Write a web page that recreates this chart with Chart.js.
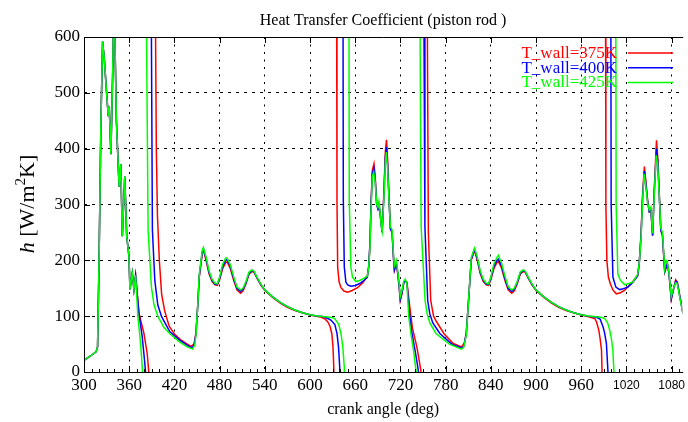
<!DOCTYPE html>
<html>
<head>
<meta charset="utf-8">
<title>Heat Transfer Coefficient (piston rod )</title>
<script src="https://cdn.jsdelivr.net/npm/chart.js@4.4.1/dist/chart.umd.min.js"></script>
<style>
  html, body { margin: 0; padding: 0; background: #fff; }
  canvas { display: block; }
</style>
</head>
<body>
<canvas id="htc" width="688" height="422"></canvas>
<script>
// crank angle ticks (deg) and h ticks (W/m^2K)
const angleTicks = [300, 360, 420, 480, 540, 600, 660, 720, 780, 840, 900, 960, 1020, 1080];
const hTicks = [0, 100, 200, 300, 400, 500, 600];
const seriesNames = ['T_wall=375K', 'T_wall=400K', 'T_wall=425K'];
const seriesColors = ['#ff0000', '#0000ff', '#00ff00'];

// first compression/firing, identical for the three wall temperatures
const startup = [
  [300, 21], [310, 30], [316, 36], [318, 45], [320, 200], [322.5, 450], [324.7, 592], [327, 560],
  [330, 500], [332.2, 458], [333.5, 476], [335.7, 390], [338, 530], [339.5, 650], [341, 600],
  [343, 450], [346.6, 332], [348.8, 372], [350.9, 243], [354.1, 350], [356.7, 243], [359.7, 207],
  [361, 148], [364.1, 177], [366.3, 148], [368.5, 173]
];

// [crank angle, h]; null marks the break where T_gas crosses T_wall
const wall375 = startup.concat([
  [372.9, 106], [379.4, 70], [383.8, 34], [386, 0], [387.5, -300], [389, null],
  [394, 900], [395, 600], [396, 400], [397.5, 280], [400, 200], [403, 140], [407, 110], [413, 82],
  [420, 68], [428, 58], [436, 51], [442, 46], [446, 50], [448.6, 69], [451, 120], [453, 170],
  [457, 212], [458.5, 219], [462, 200], [466, 176], [470, 162], [474, 156], [477, 155], [480, 165],
  [484, 185], [488, 196], [490, 197], [494, 186], [499, 163], [503, 147], [507.7, 141], [511, 145],
  [515, 158], [519, 175], [523, 180], [525.5, 179], [530, 167], [535, 155], [540, 146], [550, 134],
  [560, 124], [570, 116], [580, 110], [590, 106], [600, 102], [610, 99.5], [615, 98], [620, 95],
  [623.6, 89.6], [626.5, 82], [628.9, 69], [630.5, 45], [631.5, 9], [632.5, -300], [633.5, null],
  [635, 900], [635.8, 307], [636.7, 188], [638.5, 162], [641.1, 151], [645, 145], [649.9, 143],
  [656, 146], [663, 151], [670, 160], [676.1, 172], [678, 190], [679.6, 230], [681, 300],
  [682.7, 361], [684.9, 373], [686.5, 350], [688.5, 300], [690.2, 293], [691.5, 300], [692.8, 287],
  [694.5, 265], [695.8, 251], [698, 320], [700, 395], [701.5, 416], [703, 380], [704.6, 320],
  [706.7, 257], [708.9, 251], [711, 200], [712, 182], [714.6, 194], [716.5, 176], [718.5, 150],
  [719.8, 128], [722, 140], [724.5, 160], [726.4, 164], [728.6, 161], [733, 110], [736, 78],
  [741.8, 45], [745, 20], [747.4, 0], [748.5, -300], [750, null],
  [755, 900], [755.8, 600], [757.1, 248], [760.2, 128], [764, 100], [768, 90], [777.6, 69],
  [790, 51], [801, 45], [805, 52], [807.4, 69], [811, 140], [814, 200], [818.3, 218], [822, 200],
  [826, 176], [830, 162], [834, 156], [837, 155], [840, 165], [844, 185], [848, 196], [850, 198],
  [854, 187], [859, 163], [863, 147], [867.7, 141], [871, 145], [875, 158], [879, 175], [883, 180],
  [885.5, 179], [890, 167], [895, 155], [900, 146], [910, 134], [920, 124], [930, 116], [940, 110],
  [950, 106], [960, 102], [970, 99], [978, 95.6], [980.3, 89.6], [983.3, 75], [985, 60],
  [986.9, 39], [987.6, 0], [988.5, -300], [990, null],
  [992, 900], [992.7, 300], [994, 200], [996, 170], [998.6, 158], [1002, 147], [1006.5, 140],
  [1012, 142], [1017.4, 146], [1026, 158], [1034.9, 173], [1037, 195], [1039.4, 248],
  [1041.5, 320], [1043.8, 368], [1045.5, 345], [1048.1, 308], [1050.3, 287], [1052.5, 290],
  [1054.7, 245], [1057, 330], [1059.9, 415], [1061.5, 385], [1063.4, 325], [1065.6, 254],
  [1067.8, 245], [1070.8, 179], [1074.3, 194], [1076.5, 176], [1079.5, 130], [1082, 145],
  [1085.3, 165], [1087.5, 161], [1091, 135], [1095.2, 105], [1100, 90]
]);

const wall400 = startup.concat([
  [372.9, 105], [377.2, 64], [380.3, 22], [381.7, 0], [383, -300], [384, null],
  [388.8, 900], [389.5, 600], [390.8, 254], [394, 164], [398, 120], [403, 99], [414, 72],
  [427, 57], [440, 45], [444, 44], [446.5, 50], [448.6, 69], [451, 120], [453, 172], [457, 215],
  [458.5, 221], [462, 203], [466, 178], [470, 164], [474, 157], [477, 157], [480, 168], [484, 189],
  [488, 200], [490, 201], [494, 190], [499, 166], [503, 150], [507.7, 144], [511, 148], [515, 160],
  [519, 177], [523, 182], [525.5, 180], [530, 168], [535, 156], [540, 147], [550, 135], [560, 125],
  [570, 117], [580, 111], [590, 106], [600, 102.5], [610, 100], [615, 100], [620, 98], [625, 95],
  [628, 92.6], [633, 85], [635.8, 69], [637.8, 45], [639.4, 9], [640.5, -300], [641.5, null],
  [643.5, 900], [644.2, 307], [645.5, 188], [647.6, 161], [650, 156], [654.2, 153.5], [660, 155],
  [665.2, 158], [671, 163], [676.1, 170], [678, 190], [679.6, 232], [681, 300], [682.7, 356],
  [684.9, 365], [686.5, 345], [688.5, 300], [690.2, 292], [691.5, 298], [692.8, 287], [694.5, 264],
  [695.8, 250], [698, 315], [700, 385], [701.5, 403], [703, 370], [704.6, 318], [706.7, 256],
  [708.9, 250], [711, 200], [712, 183], [714.6, 195], [716.5, 177], [718.5, 150], [719.8, 130],
  [722, 142], [724.5, 160], [726.4, 163], [728.6, 160], [732, 105], [735, 72], [739, 42],
  [742, 18], [744, 0], [745, -300], [746, null],
  [750.6, 900], [751.3, 600], [752.5, 260], [756.2, 128], [759, 104], [763, 88], [772.3, 69],
  [788, 50], [801, 43], [804, 46], [807.4, 69], [811, 140], [814, 202], [818.3, 220], [822, 203],
  [826, 178], [830, 164], [834, 157], [837, 157], [840, 168], [844, 189], [848, 200], [850, 202],
  [854, 191], [859, 166], [863, 150], [867.7, 144], [871, 148], [875, 160], [879, 177], [883, 182],
  [885.5, 180], [890, 168], [895, 156], [900, 147], [910, 135], [920, 125], [930, 117], [940, 111],
  [950, 106], [960, 102.5], [970, 100], [980, 98], [985, 95], [988.9, 81], [991, 70],
  [993.4, 51], [995.5, 0], [996.5, -300], [997.5, null],
  [999, 900], [999.7, 300], [1002, 170], [1006, 152], [1010.9, 147.6], [1016, 149],
  [1021.8, 152], [1028, 160], [1034.9, 172], [1037, 195], [1039.4, 245], [1041.5, 315],
  [1043.8, 360], [1045.5, 340], [1048.1, 305], [1050.3, 287], [1052.5, 290], [1054.7, 244],
  [1057, 325], [1059.9, 400], [1061.5, 378], [1063.4, 322], [1065.6, 254], [1067.8, 245],
  [1070.8, 180], [1074.3, 194], [1076.5, 176], [1079.5, 131], [1082, 146], [1085.3, 163],
  [1087.5, 160], [1091, 134], [1095.2, 104], [1100, 90]
]);

const wall425 = startup.concat([
  [371.5, 100], [374.2, 64], [376.4, 28], [377.7, 0], [378.5, -300], [379.5, null],
  [382, 900], [383, 600], [385.1, 254], [389.5, 152], [393, 120], [398.2, 99], [406, 80],
  [413.6, 69], [426.7, 54], [437, 45], [444.1, 41], [447, 48], [448.6, 66], [451, 120], [453, 175],
  [457, 218], [458.5, 223], [462, 206], [466, 181], [470, 166], [474, 159], [477, 158], [480, 170],
  [484, 193], [488, 204], [490, 204], [494, 193], [499, 169], [503, 152], [507.7, 147], [511, 150],
  [515, 162], [519, 179], [523, 183], [525.5, 181], [530, 169], [535, 157], [540, 147], [550, 135],
  [560, 125], [570, 117], [580, 111], [590, 106], [600, 102.5], [610, 100.5], [620, 99], [627, 98],
  [632.4, 96], [638, 86], [641.1, 69], [643.5, 45], [645.5, 9], [646.5, -300], [647.5, null],
  [651.4, 900], [652.1, 307], [654.2, 188], [656.4, 170], [660.7, 162], [666, 164], [671.8, 168],
  [676.1, 172], [678, 188], [679.6, 225], [681, 290], [682.7, 350], [684.5, 358], [686.5, 340],
  [688.5, 300], [690.2, 295], [691.5, 305], [692.8, 290], [694.5, 262], [695.8, 252], [698, 310],
  [700, 375], [701.2, 394], [703, 365], [704.6, 315], [706.7, 260], [708.9, 255], [711, 205],
  [712, 190], [714.6, 200], [716.5, 180], [718.5, 155], [719.8, 135], [722, 146], [724.5, 163],
  [726.4, 166], [728.6, 158], [731, 100], [734, 68], [737.5, 38], [739.5, 15], [741, 0],
  [742, -300], [743, null],
  [745.4, 900], [746.1, 600], [747.5, 260], [752.7, 128], [755.5, 104], [759, 88], [767.1, 69],
  [785, 50], [801, 41], [804, 44], [807.4, 66], [811, 140], [814, 205], [818.3, 222], [822, 206],
  [826, 181], [830, 166], [834, 159], [837, 158], [840, 170], [844, 193], [848, 205], [850, 209],
  [854, 196], [859, 170], [863, 153], [867.7, 147], [871, 150], [875, 162], [879, 179], [883, 183],
  [885.5, 181], [890, 169], [895, 157], [900, 147], [910, 135], [920, 125], [930, 117], [940, 111],
  [950, 106], [960, 102.5], [970, 100.5], [980, 99], [986, 98], [991.2, 95.6], [995, 88],
  [997.8, 75], [1000, 60], [1002, 39], [1003.4, 0], [1004.3, -300], [1005, null],
  [1005.6, 900], [1006.3, 300], [1008.6, 176], [1012, 164], [1017.4, 156.5], [1022, 158],
  [1028.3, 161], [1034.9, 175], [1037, 195], [1039.4, 240], [1041.5, 310], [1043.5, 355],
  [1045.5, 335], [1048.1, 303], [1050.3, 290], [1052.5, 295], [1054.7, 248], [1057, 320],
  [1059.5, 388], [1061.5, 370], [1063.4, 320], [1065.6, 258], [1067.8, 250], [1070.8, 185],
  [1072.5, 200], [1074.3, 196], [1076.5, 178], [1079.5, 135], [1082, 148], [1085.3, 160],
  [1087.5, 158], [1091, 132], [1095.2, 103], [1100, 90]
]);

const serif = '"Liberation Serif", "DejaVu Serif", serif';
const toPoints = rows => rows.map(r => ({ x: r[0], y: r[1] }));

// gnuplot-like frame: border, inward tics, titles and the key
const framePlugin = {
  id: 'frame',
  afterDraw(chart) {
    const ctx = chart.ctx;
    const area = chart.chartArea;
    const xs = chart.scales.x, ys = chart.scales.y;
    ctx.save();
    ctx.strokeStyle = '#000';
    ctx.lineWidth = 1;
    ctx.beginPath();
    ctx.moveTo(area.right + 1, area.top + 0.5);
    ctx.lineTo(area.left + 0.5, area.top + 0.5);
    ctx.lineTo(area.left + 0.5, area.bottom + 0.5);
    ctx.lineTo(area.right + 1, area.bottom + 0.5);
    // major tics, bottom and top
    angleTicks.forEach(v => {
      const px = Math.round(xs.getPixelForValue(v)) + 0.5;
      ctx.moveTo(px, area.bottom);
      ctx.lineTo(px, area.bottom - 6);
      ctx.moveTo(px, area.top);
      ctx.lineTo(px, area.top + 6);
    });
    // minor tics every 10 deg along the bottom
    for (let v = 310; v < 1094; v += 10) {
      if (v % 60 === 0) continue;
      const px = Math.round(xs.getPixelForValue(v)) + 0.5;
      ctx.moveTo(px, area.bottom);
      ctx.lineTo(px, area.bottom - 3);
    }
    hTicks.forEach(v => {
      const py = Math.round(ys.getPixelForValue(v)) + 0.5;
      ctx.moveTo(area.left, py);
      ctx.lineTo(area.left + 6, py);
    });
    ctx.stroke();

    const cx = (area.left + area.right) / 2;
    ctx.fillStyle = '#000';
    ctx.textAlign = 'center';
    ctx.textBaseline = 'middle';
    ctx.font = '16px ' + serif;
    ctx.fillText('Heat Transfer Coefficient (piston rod )', cx, 21);
    ctx.fillText('crank angle (deg)', cx, 410);

    // y title: h [W/m^2 K]
    ctx.save();
    ctx.translate(34, 204);
    ctx.rotate(-Math.PI / 2);
    ctx.textAlign = 'left';
    ctx.textBaseline = 'alphabetic';
    const parts = [
      { t: 'h', f: 'italic 22px ' + serif, dy: 0 },
      { t: ' [W/m', f: '22px ' + serif, dy: 0 },
      { t: '2', f: '15px ' + serif, dy: -9 },
      { t: 'K]', f: '22px ' + serif, dy: 0 }
    ];
    let total = 0;
    parts.forEach(p => { ctx.font = p.f; p.w = ctx.measureText(p.t).width; total += p.w; });
    let x0 = -total / 2;
    parts.forEach(p => { ctx.font = p.f; ctx.fillText(p.t, x0, p.dy); x0 += p.w; });
    ctx.restore();

    // key
    ctx.font = '17px ' + serif;
    ctx.textAlign = 'right';
    ctx.lineWidth = 1.5;
    seriesNames.forEach((name, i) => {
      const y = 53 + i * 14.7;
      ctx.fillStyle = seriesColors[i];
      ctx.fillText(name, 617, y + 0.5);
      ctx.strokeStyle = seriesColors[i];
      ctx.beginPath();
      ctx.moveTo(628, y);
      ctx.lineTo(673, y);
      ctx.stroke();
    });
    ctx.restore();
  }
};

const seriesData = [wall375, wall400, wall425];

new Chart(document.getElementById('htc'), {
  type: 'line',
  data: {
    datasets: seriesData.map((rows, i) => ({
      label: seriesNames[i],
      data: toPoints(rows),
      borderColor: seriesColors[i],
      borderWidth: 1.5,
      pointRadius: 0,
      tension: 0,
      spanGaps: false,
      order: 2 - i
    }))
  },
  options: {
    responsive: false,
    animation: false,
    devicePixelRatio: 1,
    layout: { padding: { top: 37, left: 0, right: 0, bottom: 0 } },
    plugins: {
      legend: { display: false },
      title: { display: false },
      tooltip: { enabled: false }
    },
    scales: {
      x: {
        type: 'linear',
        min: 300,
        max: 1094,
        afterBuildTicks: s => { s.ticks = angleTicks.map(v => ({ value: v })); },
        afterFit: s => { s.height = 50; },
        grid: { color: '#000', lineWidth: 1, drawTicks: false },
        border: { display: false, dash: [2, 5.5] },
        ticks: {
          autoSkip: false,
          maxRotation: 0,
          padding: 3,
          color: '#000',
          callback: v => String(v),
          font: c => (c.tick && c.tick.value >= 1000)
            ? { family: '"Liberation Sans", Arial, sans-serif', size: 12, lineHeight: 1.7 }
            : { family: serif, size: 17, lineHeight: 1.2 }
        }
      },
      y: {
        type: 'linear',
        min: 0,
        max: 600,
        afterBuildTicks: s => { s.ticks = hTicks.map(v => ({ value: v })); },
        afterFit: s => { s.width = 84; },
        grid: { color: '#000', lineWidth: 1, drawTicks: false },
        border: { display: false, dash: [3, 5] },
        ticks: {
          padding: 4,
          color: '#000',
          callback: v => String(v),
          font: { family: serif, size: 17 }
        }
      }
    }
  },
  plugins: [framePlugin]
});
</script>
</body>
</html>
